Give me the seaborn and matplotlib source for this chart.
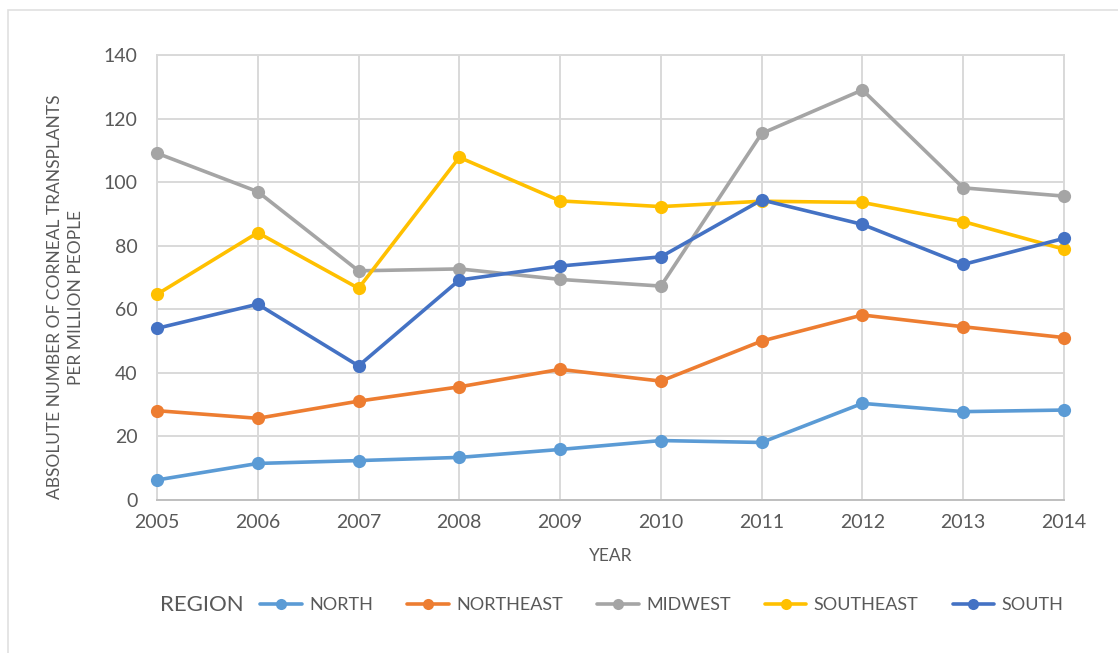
import matplotlib
matplotlib.use('Agg')
import matplotlib.pyplot as plt
import seaborn as sns
import pandas as pd

# データ
years = [2005, 2006, 2007, 2008, 2009, 2010, 2011, 2012, 2013, 2014]
north = [6.3, 11.5, 12.4, 13.4, 15.9, 18.7, 18.1, 30.4, 27.8, 28.3]
northeast = [28.1, 25.7, 31.1, 35.6, 41.1, 37.4, 50.0, 58.2, 54.5, 51.1]
midwest = [109.1, 97.0, 72.1, 72.7, 69.4, 67.3, 115.3, 129.0, 98.2, 95.6]
southeast = [64.7, 84.1, 66.6, 107.8, 94.1, 92.3, 94.0, 93.6, 87.6, 78.9]
south = [54.0, 61.6, 42.2, 69.2, 73.6, 76.5, 94.4, 86.7, 74.1, 82.3]

regions = ['NORTH', 'NORTHEAST', 'MIDWEST', 'SOUTHEAST', 'SOUTH']
colors = ['#5B9BD5', '#ED7D31', '#A5A5A5', '#FFC000', '#4472C4']

# long形式のDataFrameにする
df = pd.DataFrame({
    'year': years * 5,
    'value': north + northeast + midwest + southeast + south,
    'region': [r for r in regions for _ in years],
})

sns.set_theme(style='white')
plt.rcParams['font.family'] = ['Lato', 'DejaVu Sans']
text_color = '#595959'
grid_color = '#D9D9D9'

fig = plt.figure(figsize=(11.18, 6.53), dpi=100)
ax = fig.add_axes([0.1404, 0.2343, 0.8113, 0.6815])

sns.lineplot(data=df, x='year', y='value', hue='region', hue_order=regions,
             palette=colors, marker='o', markersize=9.5, markeredgewidth=0,
             linewidth=2.6, ax=ax, legend=False, clip_on=False, zorder=3)
for ln in ax.lines:
    ln.set_clip_on(False)
    ln.set_zorder(3)

ax.set_xlim(2005, 2014)
ax.set_ylim(0, 140)
ax.set_xticks(years)
ax.set_xticklabels([str(y) for y in years])
ax.set_yticks(range(0, 141, 20))
ax.grid(True, color=grid_color, linewidth=1.4)
ax.set_axisbelow(True)
for s in ax.spines.values():
    s.set_color(grid_color)
    s.set_linewidth(1.4)
    s.set_zorder(1)
ax.spines['bottom'].set_color('#BFBFBF')
ax.tick_params(axis='both', length=0, labelsize=14, colors=text_color)
ax.tick_params(axis='x', pad=10)
ax.tick_params(axis='y', pad=14)

ax.set_xlabel('YEAR', fontsize=12.5, color=text_color, labelpad=12)
ax.set_ylabel('ABSOLUTE NUMBER OF CORNEAL TRANSPLANTS\nPER MILLION PEOPLE',
              fontsize=12.5, color=text_color, linespacing=1.4)
ax.yaxis.set_label_coords(-0.08, 0.456)

# 凡例（タイトルは左側に別テキストで）
handles = [plt.Line2D([], [], color=c, marker='o', markersize=8,
                      markeredgewidth=0, linewidth=2.6) for c in colors]
leg = fig.legend(handles, regions, ncol=5, loc='center',
                 bbox_to_anchor=(0.592, 0.0735), frameon=False,
                 fontsize=13, handlelength=2.3, handletextpad=0.4,
                 columnspacing=1.9)
for t in leg.get_texts():
    t.set_color(text_color)
fig.text(160 / 1118, 1 - 605 / 653, 'REGION', fontsize=16,
         color=text_color, ha='left', va='center')

# 外枠
fig.add_artist(plt.Rectangle((8 / 1118, -0.1), 1.2, 1 - 10 / 653 + 0.1,
                             transform=fig.transFigure, fill=False,
                             edgecolor='#E0E0E0', linewidth=1.2))

fig.savefig('out.png', dpi=100, facecolor='white')
